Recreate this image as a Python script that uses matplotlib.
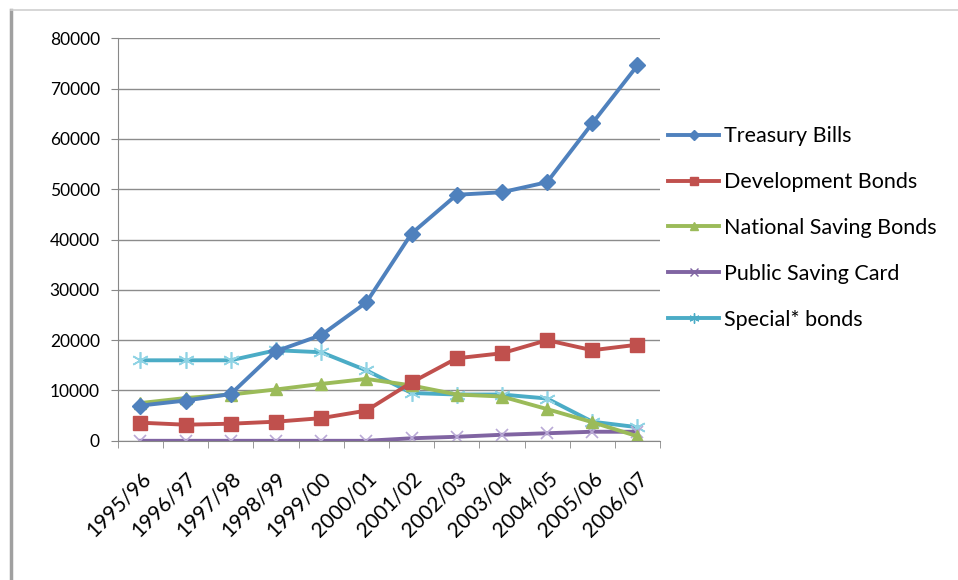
import matplotlib.pyplot as plt
from matplotlib.lines import Line2D

plt.rcParams['font.family'] = ['Lato', 'DejaVu Sans']

years = ["1995/96", "1996/97", "1997/98", "1998/99", "1999/00", "2000/01",
         "2001/02", "2002/03", "2003/04", "2004/05", "2005/06", "2006/07"]

treasury_bills = [7000, 8000, 9300, 17800, 21000, 27500, 41200, 48900, 49400, 51400, 63100, 74600]
development_bonds = [3600, 3200, 3400, 3800, 4500, 6000, 11600, 16400, 17400, 20000, 18000, 19100]
national_saving = [7500, 8500, 9200, 10200, 11300, 12300, 11000, 9200, 8800, 6300, 3700, 900]
public_saving_card = [0, 0, 0, 0, 0, 0, 500, 800, 1200, 1500, 1800, 1800]
special_bonds = [16000, 16000, 16000, 18000, 17600, 14000, 9500, 9200, 9200, 8400, 3800, 2700]

series = [
    ("Treasury Bills", treasury_bills, "#4F81BD", "D", 8),
    ("Development Bonds", development_bonds, "#C0504D", "s", 10),
    ("National Saving Bonds", national_saving, "#9BBB59", "^", 9),
    ("Public Saving Card", public_saving_card, "#8064A2", "x", 9),
    ("Special* bonds", special_bonds, "#4BACC6", (6, 2, 0), 12),
]

fig = plt.figure(figsize=(9.58, 5.8), dpi=100)
ax = fig.add_axes([0.123, 0.240, 0.566, 0.694])

x = list(range(len(years)))
# draw in reverse so Treasury Bills sits on top
for name, vals, col, mk, ms in reversed(series):
    if mk == "x" or isinstance(mk, tuple):
        ax.plot(x, vals, color=col, lw=2.8, marker=mk, ms=ms, mew=1.2,
                markeredgecolor="#B9A9D6" if mk == "x" else "#8FD3E4", label=name)
    else:
        ax.plot(x, vals, color=col, lw=2.8, marker=mk, ms=ms, mec=col, label=name)

ax.set_xlim(-0.5, len(years) - 0.5)
ax.set_ylim(0, 80000)
ax.set_yticks(range(0, 80001, 10000))
ax.tick_params(axis='y', labelsize=12.5, length=5, color="#888888", pad=8)
ax.set_xticks(x)
ax.set_xticklabels(years, rotation=45, ha="right", rotation_mode="anchor", fontsize=15)
ax.tick_params(axis='x', length=0, pad=20)
ax.set_xticks([i - 0.5 for i in range(len(years) + 1)], minor=True)
ax.tick_params(axis='x', which='minor', length=5, color="#888888")
ax.grid(axis='y', color="#8C8C8C", lw=1)
ax.set_axisbelow(True)
for s in ["top", "right"]:
    ax.spines[s].set_visible(False)
for s in ["left", "bottom"]:
    ax.spines[s].set_color("#888888")

handles = []
for name, vals, col, mk, ms in series:
    handles.append(Line2D([], [], color=col, lw=2.8, marker=mk, ms=ms * 0.6, label=name))
fig.legend(handles=handles, loc="center left", bbox_to_anchor=(0.697, 0.607),
           frameon=False, fontsize=15.5, handlelength=2.4, labelspacing=1.2,
           handletextpad=0.2, borderpad=0, borderaxespad=0)

# chart area border (left and top edges visible)
fig.add_artist(Line2D([0.011, 0.011], [0.0, 0.983], color="#A0A0A0", lw=2.5))
fig.add_artist(Line2D([0.011, 1.0], [0.983, 0.983], color="#D0D0D0", lw=1.2))

fig.savefig("out.png", dpi=100)
